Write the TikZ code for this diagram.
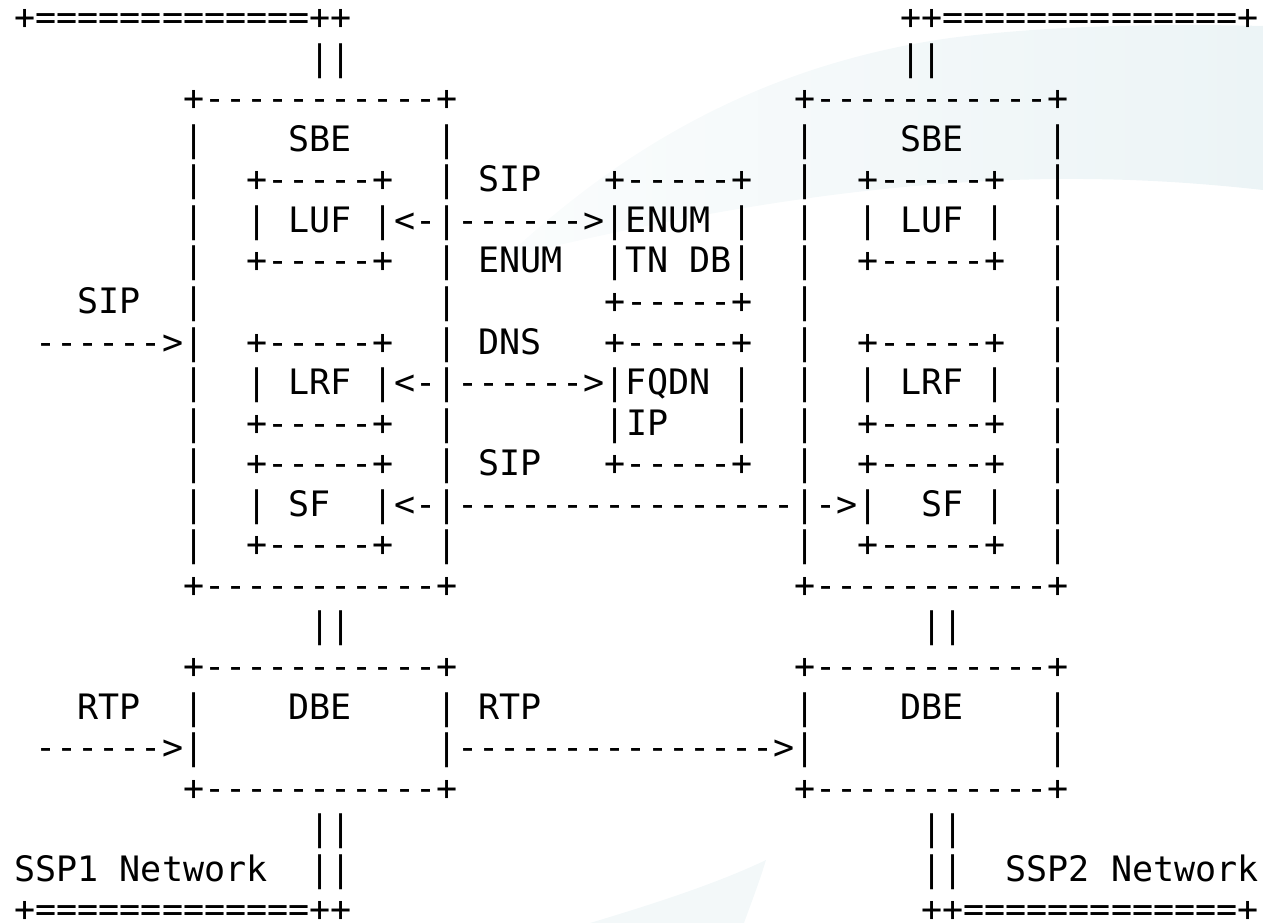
\documentclass[tikz,border=0pt]{standalone}
\usepackage{fontspec}
\setmonofont{DejaVu Sans Mono}

\definecolor{logotint}{RGB}{236,244,246}
\definecolor{logopale}{RGB}{243,248,249}
\newcommand{\rowfont}{\ttfamily\fontsize{35.03bp}{40.55bp}\selectfont}
\tikzset{asciirow/.style={anchor=base west, inner sep=0pt, text depth=0pt, font=\rowfont}}

% rows of the figure, every space kept
\begingroup
\catcode`\ =\active%
\gdef {\ }%
\gdef\asciirows{%
+=============++                          ++==============+,%
              ||                          ||,%
        +-----------+                +-----------+,%
        |    SBE    |                |    SBE    |,%
        |  +-----+  | SIP   +-----+  |  +-----+  |,%
        |  | LUF |<-|------>|ENUM |  |  | LUF |  |,%
        |  +-----+  | ENUM  |TN DB|  |  +-----+  |,%
   SIP  |           |       +-----+  |           |,%
 ------>|  +-----+  | DNS   +-----+  |  +-----+  |,%
        |  | LRF |<-|------>|FQDN |  |  | LRF |  |,%
        |  +-----+  |       |IP   |  |  +-----+  |,%
        |  +-----+  | SIP   +-----+  |  +-----+  |,%
        |  | SF  |<-|----------------|->|  SF |  |,%
        |  +-----+  |                |  +-----+  |,%
        +-----------+                +-----------+,%
              ||                           ||,%
        +-----------+                +-----------+,%
   RTP  |    DBE    | RTP            |    DBE    |,%
 ------>|           |--------------->|           |,%
        +-----------+                +-----------+,%
              ||                           ||,%
SSP1 Network  ||                           ||  SSP2 Network,%
+=============++                           ++=============+%
}%
\endgroup

\begin{document}
\begin{tikzpicture}[x=1bp, y=-1bp]
\useasboundingbox (0,0) rectangle (1263,923);
% Faint logo behind the text
\shade[left color=logotint!25, right color=logotint] (505,258)
  .. controls (620,150) and (760,65) .. (950,38)
  .. controls (1060,24) and (1180,24) .. (1263,26) -- (1263,190)
  .. controls (1100,172) and (880,165) .. (505,258) -- cycle;
\fill[logopale] (590,923) .. controls (660,902) and (720,882) .. (766,860)
  .. controls (758,886) and (750,906) .. (744,923) -- cycle;
% Rows of the figure
\foreach \rowtxt [count=\i from 0] in \asciirows
  \node[asciirow] (r\i) at (14.2,{29.65+40.55*\i}) {\rowtxt};
\end{tikzpicture}
\end{document}
